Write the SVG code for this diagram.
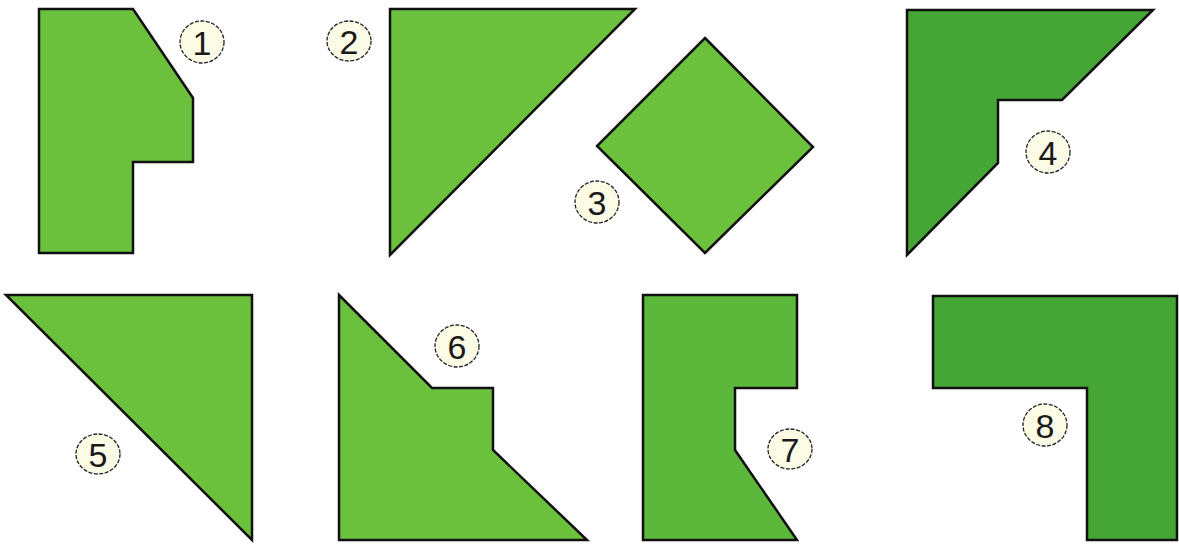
<svg xmlns="http://www.w3.org/2000/svg" width="1179" height="544" viewBox="0 0 1179 544">
<style>
.shape{stroke:#111;stroke-width:2.5;stroke-linejoin:miter}
.light{fill:#6cc13c}
.mid{fill:#5cb83a}
.dark{fill:#45a636}
.badge{fill:#fbfbe6;stroke:#222;stroke-width:1.3;stroke-dasharray:4 1.5}
.num{font-family:"Liberation Sans",Arial,sans-serif;font-size:34px;fill:#1a1a1a;text-anchor:middle;dominant-baseline:central}
</style>
<rect width="1179" height="544" fill="#ffffff"/>
<g id="piece1">
<polygon class="shape light" points="39,9 133,9 193,98 193,162 133,162 133,253 39,253"/>
<ellipse class="badge" cx="202" cy="42" rx="22" ry="21"/>
<text class="num" x="202" y="43">1</text>
</g>
<g id="piece2">
<polygon class="shape light" points="390,9 635,9 390,255"/>
<ellipse class="badge" cx="349" cy="41" rx="22" ry="20"/>
<text class="num" x="349" y="42">2</text>
</g>
<g id="piece3">
<polygon class="shape light" points="705,38 813,147 705,253 597,146"/>
<ellipse class="badge" cx="597" cy="202" rx="22" ry="21"/>
<text class="num" x="597" y="203">3</text>
</g>
<g id="piece4">
<polygon class="shape dark" points="907,10 1153,10 1062,100 998,100 998,163 907,255"/>
<ellipse class="badge" cx="1048" cy="152" rx="22" ry="21"/>
<text class="num" x="1048" y="153">4</text>
</g>
<g id="piece5">
<polygon class="shape light" points="6,295 252,295 252,540"/>
<ellipse class="badge" cx="98" cy="454" rx="22" ry="20"/>
<text class="num" x="98" y="455">5</text>
</g>
<g id="piece6">
<polygon class="shape light" points="339,295 432,388 493,388 493,450 587,540 339,540"/>
<ellipse class="badge" cx="457" cy="346" rx="22" ry="21"/>
<text class="num" x="457" y="347">6</text>
</g>
<g id="piece7">
<polygon class="shape mid" points="643,295 797,295 797,388 735,388 735,450 797,540 643,540"/>
<ellipse class="badge" cx="790" cy="449" rx="22" ry="20"/>
<text class="num" x="790" y="450">7</text>
</g>
<g id="piece8">
<polygon class="shape dark" points="933,296 1177,296 1177,540 1087,540 1087,388 933,388"/>
<ellipse class="badge" cx="1045" cy="425" rx="22" ry="21"/>
<text class="num" x="1045" y="426">8</text>
</g>
<g id="connectors"></g>
</svg>
